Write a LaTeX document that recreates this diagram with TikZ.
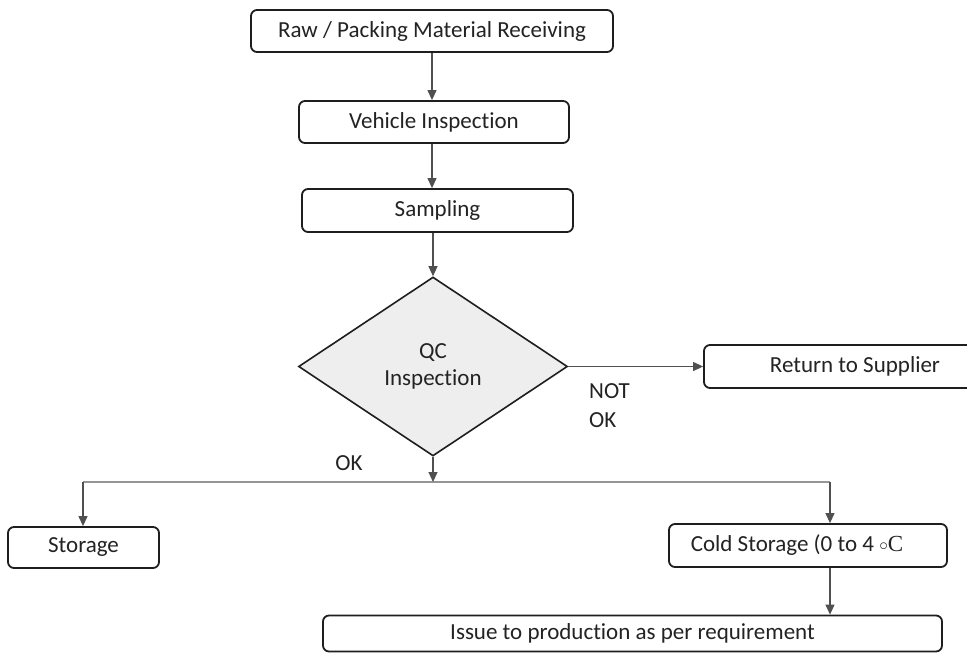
\documentclass[tikz,border=0pt]{standalone}
\usepackage{fontspec}
\setmainfont{Carlito}[Ligatures=NoCommon]
\newfontfamily\serifC{Liberation Serif}
\usetikzlibrary{shapes.geometric,arrows.meta}
\definecolor{boxline}{RGB}{30,30,30}
\definecolor{conn}{RGB}{80,80,80}
\definecolor{hline}{RGB}{150,150,150}
\definecolor{dfill}{RGB}{238,238,238}
\definecolor{txt}{RGB}{35,35,35}
\tikzset{
  procbox/.style={draw=boxline, line width=1.8pt, rounded corners=6pt, fill=white,
    inner sep=0pt, text=txt, font=\fontsize{23}{27}\selectfont},
  decbox/.style={draw=boxline, line width=1.6pt, fill=dfill, diamond, inner sep=0pt,
    minimum width=269pt, minimum height=179pt, align=center, text=txt,
    font=\fontsize{23}{27}\selectfont},
  arr/.style={draw=conn, line width=1.1pt, -{Triangle[width=9pt,length=10pt]}},
  ln/.style={draw=hline, line width=2pt},
  lbl/.style={text=txt, font=\fontsize{23}{29}\selectfont, inner sep=0pt}
}
\begin{document}
\begin{tikzpicture}[x=1pt,y=-1pt]
\useasboundingbox (0,0) rectangle (967,653);
\node[procbox, minimum width=362pt, minimum height=42pt] (raw) at (432,31) {Raw / Packing Material Receiving};
\node[procbox, minimum width=270pt, minimum height=42pt] (veh) at (434,122) {Vehicle Inspection};
\node[procbox, minimum width=271pt, minimum height=43pt] (samp) at (437.5,210.5) {Sampling};
\node[decbox] (qc) at (433,366.5) {QC\\Inspection};
\node[procbox, minimum width=302pt, minimum height=43pt] (ret) at (855,366.5) {Return to Supplier};
\node[procbox, minimum width=151pt, minimum height=41pt] (sto) at (83.5,547.5) {Storage};
\node[procbox, minimum width=278pt, minimum height=43pt] (cold) at (808,545.5) {Cold Storage (0 to 4 {\serifC\raisebox{0.05em}{$\scriptstyle\circ$}C}\hspace*{22pt}};
\node[procbox, minimum width=619pt, minimum height=36pt] (iss) at (632.5,633.5) {Issue to production as per requirement};
\node[lbl, anchor=north west, align=left] (nok) at (589,383) {NOT\\OK};
\node[lbl] (ok) at (349,463) {OK};
\coordinate (j) at (433,482);
\coordinate (jl) at (83,482);
\coordinate (jr) at (830,482);
\draw[arr] (raw.south -| 432,0) -- (veh.north -| 432,0);
\draw[arr] (veh.south -| 432,0) -- (samp.north -| 432,0);
\draw[arr] (samp.south -| 433,0) -- (qc.north);
\draw[arr] (qc.east) -- (ret.west);
\draw[ln] (jl) -- (jr);
\draw[arr] (qc.south) -- (j);
\draw[arr] (jl) -- (sto.north -| jl);
\draw[arr] (jr) -- (cold.north -| jr);
\draw[arr] (cold.south -| jr) -- (iss.north -| jr);
\end{tikzpicture}
\end{document}
